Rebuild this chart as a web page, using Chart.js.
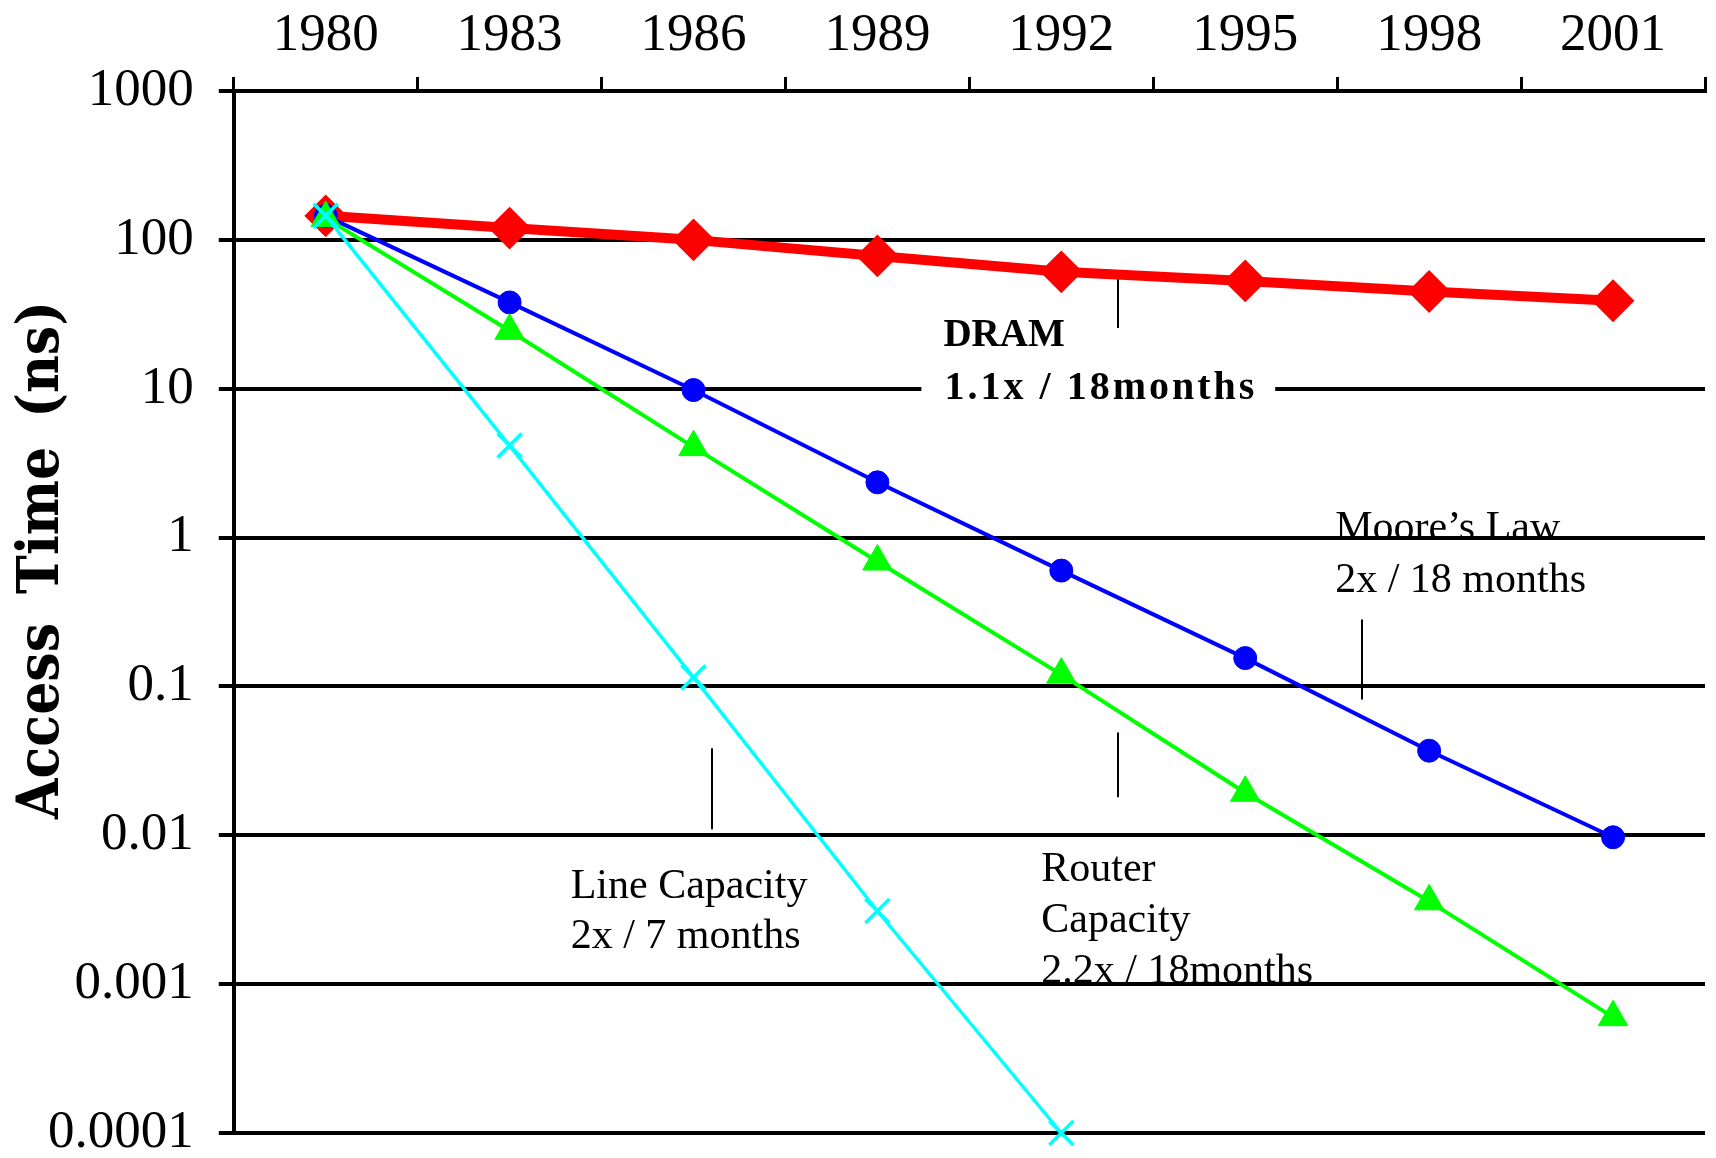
<!DOCTYPE html>
<html>
<head>
<meta charset="utf-8">
<script src="https://cdn.jsdelivr.net/npm/chart.js@4/dist/chart.umd.min.js"></script>
<style>
  html, body { margin: 0; padding: 0; background: #ffffff; }
  #wrap { width: 1716px; height: 1158px; position: relative; }
  canvas { display: block; }
</style>
</head>
<body>
<div id="wrap"><canvas id="c" width="1716" height="1158"></canvas></div>
<script>
// ---- Data ----
const years = ['1980', '1983', '1986', '1989', '1992', '1995', '1998', '2001'];
const dramValues = [145, 120, 100, 78, 61, 53, 45, 39];
const mooreValues = [145, 38, 9.8, 2.35, 0.6, 0.155, 0.037, 0.0097];
const routerValues = [140, 24.5, 4.05, 0.69, 0.12, 0.0193, 0.0036, 0.0006];
const lineCapValues = [145, 4.15, 0.115, 0.0031, 0.0001, null, null, null];
const yTickValues = [1000, 100, 10, 1, 0.1, 0.01, 0.001, 0.0001];
const yTickLabels = ['1000', '100', '10', '1', '0.1', '0.01', '0.001', '0.0001'];
const yAxisTitle = 'Access Time (ns)';

// Annotation texts (positions given in data space: category index, value)
const noteDram = ['DRAM', '1.1x / 18months'];
const noteMoore = ['Moore\u2019s Law', '2x / 18 months'];
const noteLine = ['Line Capacity', '2x / 7 months'];
const noteRouter = ['Router', 'Capacity', '2.2x / 18months'];

const tickFont = { family: "'Liberation Serif', 'Times New Roman', serif", size: 53, lineHeight: 1 };
const noteFamily = "'Liberation Serif', 'Times New Roman', serif";

function px(chart, idx, val) {
  return {
    x: chart.scales.x.getPixelForValue(idx),
    y: chart.scales.y.getPixelForValue(val)
  };
}

function drawLeader(ctx, chart, idx, v1, v2) {
  const a = px(chart, idx, v1), b = px(chart, idx, v2);
  ctx.save();
  ctx.strokeStyle = '#000';
  ctx.lineWidth = 2;
  ctx.beginPath();
  ctx.moveTo(Math.round(a.x), a.y);
  ctx.lineTo(Math.round(b.x), b.y);
  ctx.stroke();
  ctx.restore();
}

function drawLines(ctx, chart, lines, idx, vals, font, spacing) {
  ctx.save();
  ctx.fillStyle = '#000';
  ctx.font = font;
  ctx.textAlign = 'left';
  ctx.textBaseline = 'alphabetic';
  if (spacing) ctx.letterSpacing = spacing;
  lines.forEach((t, i) => {
    const p = px(chart, idx, vals[i]);
    ctx.fillText(t, p.x, p.y);
  });
  ctx.restore();
}

const annotationsPlugin = {
  id: 'annotations',
  beforeDraw(chart) {
    const ctx = chart.ctx;
    const regular = '42px ' + noteFamily;
    // Moore's law note (gridline passes over it)
    drawLines(ctx, chart, noteMoore, 5.489, [0.97, 0.4276], regular);
    // Line capacity note
    drawLines(ctx, chart, noteLine, 1.332, [0.003776, 0.001745], regular);
    // Router capacity note, clipped by the 0.001 gridline
    const gy = chart.scales.y.getPixelForValue(0.001);
    ctx.save();
    ctx.beginPath();
    ctx.rect(0, 0, chart.width, gy - 1);
    ctx.clip();
    drawLines(ctx, chart, noteRouter, 3.891, [0.00491, 0.002234, 0.001016], regular);
    ctx.restore();
    // leader lines
    drawLeader(ctx, chart, 4.31, 54.7, 25.6);
    drawLeader(ctx, chart, 5.636, 0.2818, 0.0818);
    drawLeader(ctx, chart, 4.31, 0.0491, 0.01799);
    drawLeader(ctx, chart, 2.098, 0.0384, 0.01096);
  },
  beforeDatasetsDraw(chart) {
    const ctx = chart.ctx;
    // white box interrupting the "10" gridline
    const a = px(chart, 3.239, 12.2), b = px(chart, 5.163, 7.9);
    ctx.save();
    ctx.fillStyle = '#ffffff';
    ctx.fillRect(a.x, a.y, b.x - a.x, b.y - a.y);
    ctx.restore();
    drawLines(ctx, chart, [noteDram[0]], 3.359, [19.4], 'bold 39px ' + noteFamily);
    drawLines(ctx, chart, [noteDram[1]], 3.365, [8.57], 'bold 40px ' + noteFamily, '3px');
  },
  afterDraw(chart) {
    const ctx = chart.ctx;
    ctx.save();
    ctx.translate(43, 560);
    ctx.rotate(-Math.PI / 2);
    ctx.scale(0.9, 1);
    ctx.fillStyle = '#000';
    ctx.font = "bold 58px 'DejaVu Serif', serif";
    ctx.textAlign = 'center';
    ctx.textBaseline = 'middle';
    ctx.wordSpacing = '12px';
    ctx.fillText(yAxisTitle, 0, 0);
    ctx.restore();
  }
};

new Chart(document.getElementById('c'), {
  type: 'line',
  data: {
    labels: years,
    datasets: [
      {
        label: 'DRAM', data: dramValues, order: 4, clip: false,
        borderColor: '#ff0000', backgroundColor: '#ff0000', borderWidth: 10,
        pointStyle: 'rectRot', pointRadius: 20, pointBorderWidth: 2,
        pointBackgroundColor: '#ff0000', pointBorderColor: '#ff0000', tension: 0
      },
      {
        label: "Moore's Law", data: mooreValues, order: 3, clip: false,
        borderColor: '#0000ff', backgroundColor: '#0000ff', borderWidth: 4,
        pointStyle: 'circle', pointRadius: 11.5, pointBorderWidth: 1,
        pointBackgroundColor: '#0000ff', pointBorderColor: '#0000ff', tension: 0
      },
      {
        label: 'Router Capacity', data: routerValues, order: 2, clip: false,
        borderColor: '#00ff00', backgroundColor: '#00ff00', borderWidth: 4,
        pointStyle: 'triangle', pointRadius: 17, pointBorderWidth: 1,
        pointBackgroundColor: '#00ff00', pointBorderColor: '#00ff00', tension: 0
      },
      {
        label: 'Line Capacity', data: lineCapValues, order: 1, clip: false,
        borderColor: '#00ffff', backgroundColor: '#00ffff', borderWidth: 3.5,
        pointStyle: 'crossRot', pointRadius: 17, pointBorderWidth: 3.5,
        pointBackgroundColor: '#00ffff', pointBorderColor: '#00ffff', tension: 0
      }
    ]
  },
  options: {
    responsive: false,
    animation: false,
    devicePixelRatio: 1,
    layout: { autoPadding: false, padding: { left: 23, right: 11, top: -4, bottom: 0 } },
    plugins: { legend: { display: false }, tooltip: { enabled: false } },
    elements: { line: { borderCapStyle: 'round', borderJoinStyle: 'round' } },
    scales: {
      x: {
        type: 'category',
        position: 'top',
        offset: true,
        afterFit(scale) {
          scale.paddingLeft = 0;
          scale.paddingRight = 0;
        },
        grid: {
          offset: true, drawOnChartArea: false, drawTicks: true,
          tickLength: 14, color: '#000', lineWidth: 3
        },
        border: { display: true, color: '#000', width: 4 },
        ticks: { font: tickFont, color: '#000', padding: 14, maxRotation: 0, autoSkip: false }
      },
      y: {
        type: 'logarithmic',
        position: 'left',
        min: 0.0001,
        max: 1000,
        afterBuildTicks(scale) {
          scale.ticks = yTickValues.map(v => ({ value: v, major: true }));
        },
        afterFit(scale) {
          scale.paddingTop = 0;
          scale.paddingBottom = 25;
        },
        grid: { color: '#000', lineWidth: 4, tickLength: 15, drawTicks: true },
        border: { display: true, color: '#000', width: 4 },
        ticks: {
          font: tickFont, color: '#000', padding: 25,
          callback(value) {
            const i = yTickValues.findIndex(v => Math.abs(Math.log10(v) - Math.log10(value)) < 1e-6);
            return i >= 0 ? yTickLabels[i] : '';
          }
        }
      }
    }
  },
  plugins: [annotationsPlugin]
});
</script>
</body>
</html>
